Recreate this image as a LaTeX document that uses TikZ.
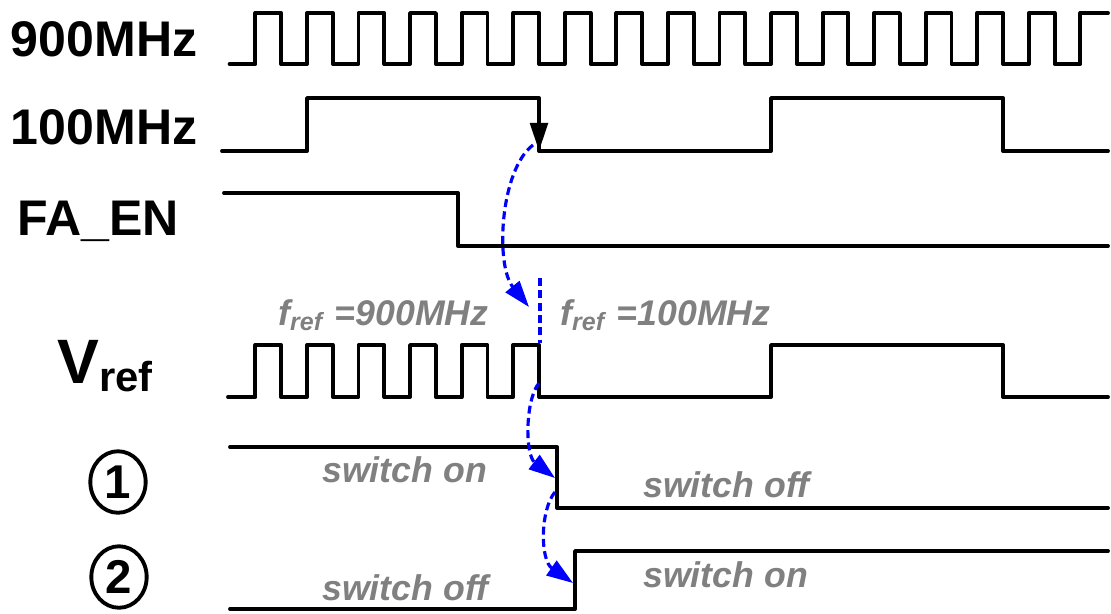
\documentclass[tikz,border=0pt]{standalone}
\usepackage{fontspec}
\setmainfont{Liberation Sans}
\usepackage{xcolor}
\usepackage{tikz}
\usetikzlibrary{arrows.meta, shapes.geometric}
\definecolor{arrowblue}{RGB}{0,0,255}
\definecolor{labelgray}{RGB}{128,128,128}

\begin{document}
\begin{tikzpicture}[
    x=0.02cm, y=-0.02cm,
    font=\bfseries,
    wave/.style={line width=2.2pt, line join=round, line cap=round},
    signame/.style={anchor=base, inner sep=0pt, font=\fontsize{28.5}{30}\selectfont\bfseries},
    note/.style={anchor=base west, inner sep=0pt, text=labelgray, font=\fontsize{20.3}{22}\selectfont\bfseries\itshape},
    phase/.style={ellipse, draw, line width=2.2pt, minimum width=31.5pt, minimum height=35pt, inner sep=0pt, font=\fontsize{27}{27}\selectfont\bfseries},
    marker/.style={arrowblue, line width=1.8pt, dash pattern=on 4.5pt off 2.5pt},
    flow/.style={marker, -{Triangle[length=15pt, width=10pt]}}
]
\useasboundingbox (0,0) rectangle (1111,613);

% signal names
\node[signame] (lbl900) at (104,56) {900MHz};
\node[signame] (lbl100) at (104,144) {100MHz};
\node[signame] (lblfa) at (98,235) {FA\_EN};
\node[anchor=base west, inner sep=0pt] (lblvref) at (57,383) {\fontsize{35.7}{36}\selectfont V\raisebox{-5pt}{\fontsize{23.8}{24}\selectfont ref}};
\node[phase] (one) at (118,482) {1};
\node[phase] (two) at (119,577) {2};

% edge points
\coordinate (clkhigh) at (539,98);
\coordinate (clklow) at (539,151);
\coordinate (clktip) at (533,145);
\coordinate (vrefmark) at (529,307);
\coordinate (marktop) at (540,278);
\coordinate (markbot) at (540,343);
\coordinate (vreffall) at (539,383);
\coordinate (sw1fall) at (555,478);
\coordinate (sw1mid) at (555,492);
\coordinate (sw2rise) at (573,583);

% waveforms
\draw[wave] (229.6,64)
  \foreach \k [evaluate=\k as \xr using 255.4+51.56*\k, evaluate=\k as \xf using 281.2+51.56*\k] in {0,...,15} {
    -- (\xr,64) -- (\xr,13) -- (\xf,13) -- (\xf,64)}
  -- (1080.4,64) -- (1080.4,13) -- (1108,13);
\draw[wave] (222,151) -- (307,151) -- (307,98) -- (clkhigh) -- (clklow) -- (771,151) -- (771,98) -- (1003,98) -- (1003,151) -- (1108,151);
\draw[line width=2.2pt, -{Triangle[length=16pt, width=10pt]}] (clkhigh) -- (clklow);
\draw[wave] (224,193) -- (458,193) -- (458,246) -- (1108,246);
\draw[wave] (228,397)
  \foreach \k [evaluate=\k as \xr using 255.4+51.56*\k, evaluate=\k as \xf using 281.2+51.56*\k] in {0,...,5} {
    -- (\xr,397) -- (\xr,345) -- (\xf,345) -- (\xf,397)}
  -- (771,397) -- (771,345) -- (1003,345) -- (1003,397) -- (1108,397);
\draw[wave] (230,447) -- (557,447) -- (557,508) -- (1108,508);
\draw[wave] (230,609) -- (575,609) -- (575,551) -- (1108,551);

% notes
\node[note] (fref900) at (278,325) {f\textsubscript{ref}\,\,=900MHz};
\node[note] (fref100) at (560,325) {f\textsubscript{ref}\,\,=100MHz};
\node[note] (on1) at (322,482) {switch on};
\node[note] (off1) at (643,497) {switch off};
\node[note] (off2) at (322,600) {switch off};
\node[note] (on2) at (643,587) {switch on};

% blue timing arrows
\draw[flow] (clktip) .. controls (500,170) and (495,265) .. (vrefmark);
\draw[marker] (marktop) -- (markbot);
\draw[flow] (vreffall) .. controls (525,400) and (525,455) .. (sw1fall);
\draw[flow] (sw1mid) .. controls (540,510) and (540,560) .. (sw2rise);
\end{tikzpicture}
\end{document}
